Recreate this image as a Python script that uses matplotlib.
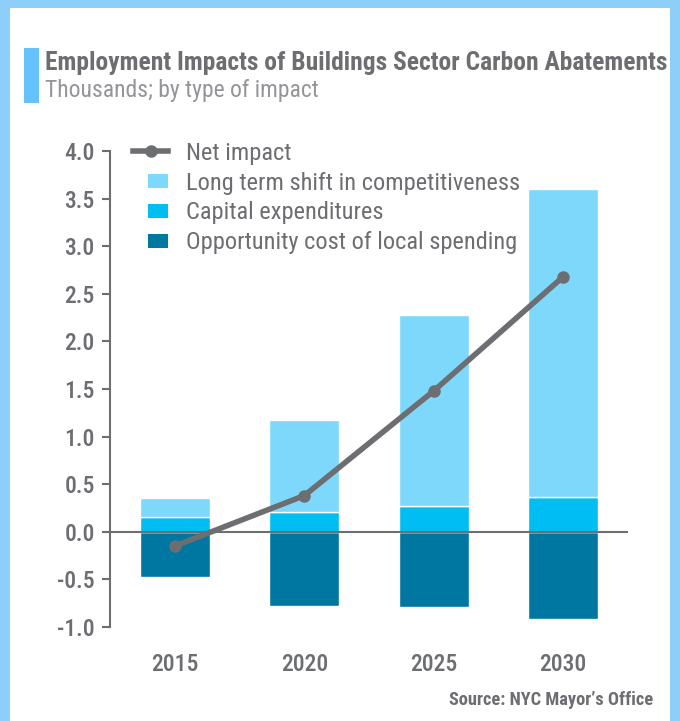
import numpy as np
import matplotlib.pyplot as plt
from matplotlib import font_manager
from matplotlib.patches import Rectangle, Patch
from matplotlib.lines import Line2D
from matplotlib.legend_handler import HandlerPatch

# ищем узкий шрифт, если есть
names = [f.name for f in font_manager.fontManager.ttflist]
family = 'DejaVu Sans'
for cand in ['Roboto Condensed', 'Liberation Sans Narrow', 'Open Sans Condensed']:
    if cand in names:
        family = cand
        break
plt.rcParams['font.family'] = [family, 'DejaVu Sans']

years = ['2015', '2020', '2025', '2030']
long_term = [0.20, 0.96, 2.01, 3.23]
capital = [0.16, 0.21, 0.27, 0.37]
opportunity = [-0.48, -0.78, -0.79, -0.92]
net_impact = [-0.15, 0.38, 1.48, 2.68]

grey = '#6D6E71'
c_long = '#7DD8FB'
c_cap = '#00BDF2'
c_opp = '#0077A0'
border = '#8ECFFA'

fig = plt.figure(figsize=(6.8, 7.21), dpi=100)
r = fig.canvas.get_renderer()

# светло-голубая рамка
fig.patches.append(Rectangle((0, 0), 1, 1, transform=fig.transFigure,
                             facecolor=border, edgecolor='none', zorder=-2))
fig.patches.append(Rectangle((10 / 680, 0), 1 - 20 / 680, 1 - 8 / 721,
                             transform=fig.transFigure, facecolor='white',
                             edgecolor='none', zorder=-1))
# полоска у заголовка
fig.patches.append(Rectangle((24 / 680, 1 - 103 / 721), 15 / 680, 55 / 721,
                             transform=fig.transFigure, facecolor='#66C2FA',
                             edgecolor='none'))


def fit_size(s, width_px, size=15, weight='normal'):
    # размер шрифта, при котором текст займёт нужную ширину
    t = fig.text(0, 0, s, fontsize=size, fontweight=weight)
    wpx = t.get_window_extent(r).width
    t.remove()
    return size * width_px / wpx


title_txt = 'Employment Impacts of Buildings Sector Carbon Abatements'
fig.text(45 / 680, 1 - 63 / 721, title_txt, fontweight='bold', color=grey,
         va='center', fontsize=fit_size(title_txt, 622, weight='bold'))
sub_txt = 'Thousands; by type of impact'
fig.text(45 / 680, 1 - 90 / 721, sub_txt, color='#939598', va='center',
         fontsize=fit_size(sub_txt, 275))
src_txt = 'Source: NYC Mayor\u2019s Office'
fig.text(653 / 680, 1 - 700 / 721, src_txt, fontweight='bold', color=grey,
         ha='right', va='center', fontsize=fit_size(src_txt, 205, weight='bold'))

ax = fig.add_axes([110 / 680, 1 - 627 / 721, 518 / 680, 476 / 721])
x = np.arange(len(years))
w = 0.54

ax.bar(x, opportunity, w, color=c_opp, edgecolor='white', linewidth=1, zorder=2)
ax.bar(x, capital, w, color=c_cap, edgecolor='white', linewidth=1, zorder=2)
ax.bar(x, long_term, w, bottom=capital, color=c_long, edgecolor='white', linewidth=1, zorder=2)
ax.axhline(0, color=grey, linewidth=1.5, zorder=3)
ax.plot(x, net_impact, color=grey, linewidth=4, marker='o', markersize=8, zorder=4)

ax.set_xlim(-0.5, 3.5)
ax.set_ylim(-1.0, 4.0)
yt = np.arange(-1.0, 4.01, 0.5)
ax.set_yticks(yt)
ax.set_yticklabels(['%.1f' % v for v in yt], fontweight='medium')
ax.set_xticks(x)
ax.set_xticklabels(years, fontweight='medium')

for s in ['top', 'right', 'bottom']:
    ax.spines[s].set_visible(False)
ax.spines['left'].set_color(grey)
ax.spines['left'].set_linewidth(1.5)
ax.tick_params(axis='y', colors=grey, labelsize=17, length=6, width=1.5, pad=5)
ax.tick_params(axis='x', colors=grey, labelsize=17, length=0, pad=19)


class SquareHandler(HandlerPatch):
    # прямоугольник справа в области маркера
    def create_artists(self, legend, orig_handle, xdescent, ydescent,
                       width, height, fontsize, trans):
        side = height * 0.76
        wd = side * 1.47
        p = Rectangle((width - wd - xdescent, -ydescent - (side - height) / 2),
                      wd, side, facecolor=orig_handle.get_facecolor(),
                      edgecolor='none', transform=trans)
        return [p]


handles = [
    Line2D([0], [0], color=grey, linewidth=4, marker='o', markersize=8),
    Patch(color=c_long),
    Patch(color=c_cap),
    Patch(color=c_opp),
]
labels = ['Net impact', 'Long term shift in competitiveness',
          'Capital expenditures', 'Opportunity cost of local spending']
leg_fs = fit_size(labels[1], 334)
ax.legend(handles, labels, loc='upper left', bbox_to_anchor=(0.002, 1.066),
          frameon=False, fontsize=leg_fs, labelcolor=grey, handlelength=1.45,
          handleheight=0.8, labelspacing=0.285, handletextpad=0.72,
          handler_map={Patch: SquareHandler()})

plt.savefig('out.png', dpi=100)
